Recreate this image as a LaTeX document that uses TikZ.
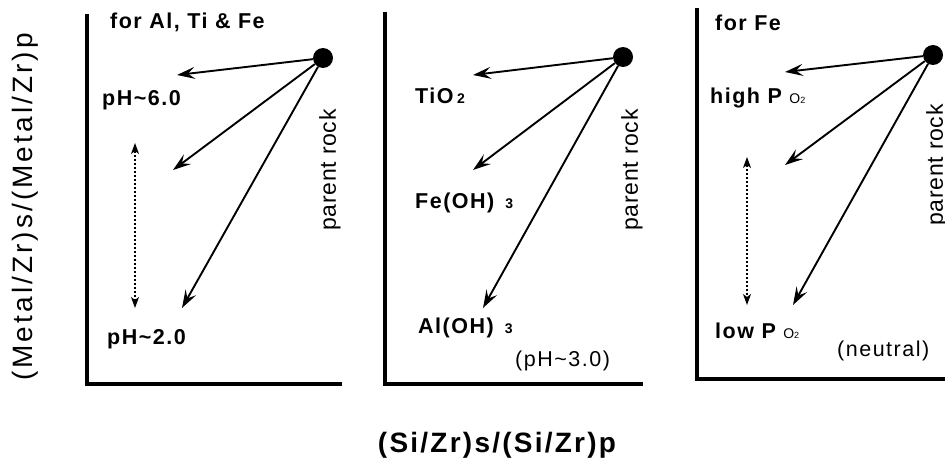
\documentclass[tikz,border=0pt]{standalone}
\usepackage{fontspec}
\setmainfont{Liberation Sans}
\usetikzlibrary{arrows.meta}
\newfontfamily\lblfont{Liberation Sans}[LetterSpace=7]
\newfontfamily\rockfont{Liberation Sans}[LetterSpace=3]
\newfontfamily\ylabfont{Liberation Sans}[LetterSpace=11]
\newfontfamily\xlabfont{Liberation Sans}[LetterSpace=8]
\tikzset{
  axisline/.style={line width=4.5pt},
  flowarrow/.style={line width=1.9pt, -{Stealth[length=18pt,width=12pt,inset=7pt]}},
  rangearrow/.style={line width=1.1pt, dash pattern=on 2.5pt off 1.5pt,
     {Stealth[length=11pt,width=8pt,inset=3pt]}-{Stealth[length=11pt,width=8pt,inset=3pt]}},
  rock/.style={circle, fill=black, inner sep=0pt, minimum size=20pt},
  lbl/.style={font=\lblfont\bfseries\fontsize{21.5}{24}\selectfont, inner sep=0pt, anchor=base west},
  note/.style={font=\lblfont\fontsize{21.5}{24}\selectfont, inner sep=0pt, anchor=base west},
  rocklbl/.style={font=\rockfont\fontsize{23}{25}\selectfont, inner sep=0pt, rotate=90},
  axislbl/.style={font=\ylabfont\fontsize{28}{30}\selectfont, inner sep=0pt},
}
\newcommand{\smallsub}[1]{\,{\fontsize{14}{15}\selectfont #1}}
\newcommand{\oxy}{{\mdseries\fontsize{14}{15}\selectfont O{\fontsize{9}{10}\selectfont 2}}}
\begin{document}
\begin{tikzpicture}[x=1pt,y=-1pt]
\useasboundingbox (0,0) rectangle (945,460);

% ---------- panel 1 ----------
\draw[axisline] (87,14) -- (87,384) -- (342,384);
\node[rock] (r1) at (323,58) {};
\coordinate (a1) at (177,75);
\coordinate (b1) at (173,170);
\coordinate (c1) at (182,308);
\draw[flowarrow] (r1) -- (a1);
\draw[flowarrow] (r1) -- (b1);
\draw[flowarrow] (r1) -- (c1);
\coordinate (d1t) at (135,143);
\coordinate (d1b) at (135,308);
\draw[rangearrow] (d1t) -- (d1b);
\node[lbl] (t1) at (110,29) {for Al, Ti \& Fe};
\node[lbl] (h1) at (102,105) {pH\char`~6.0};
\node[lbl] (l1) at (107,344) {pH\char`~2.0};
\node[rocklbl] (p1) at (330,170) {parent rock};

% ---------- panel 2 ----------
\draw[axisline] (385,12) -- (385,384) -- (643,384);
\node[rock] (r2) at (623,57) {};
\coordinate (a2) at (473,75);
\coordinate (b2) at (473,170);
\coordinate (c2) at (483,308);
\draw[flowarrow] (r2) -- (a2);
\draw[flowarrow] (r2) -- (b2);
\draw[flowarrow] (r2) -- (c2);
\node[lbl] (ti) at (415,103) {TiO\smallsub{2}};
\node[lbl] (fe) at (415,208) {Fe(OH) \smallsub{3}};
\node[lbl] (al) at (418,333) {Al(OH) \smallsub{3}};
\node[note] (ph3) at (515,366) {(pH\char`~3.0)};
\node[rocklbl] (p2) at (632,170) {parent rock};

% ---------- panel 3 ----------
\draw[axisline] (697,8) -- (697,379) -- (950,379);
\node[rock] (r3) at (933,55) {};
\coordinate (a3) at (785,72);
\coordinate (b3) at (785,165);
\coordinate (c3) at (793,305);
\draw[flowarrow] (r3) -- (a3);
\draw[flowarrow] (r3) -- (b3);
\draw[flowarrow] (r3) -- (c3);
\coordinate (d3t) at (747,157);
\coordinate (d3b) at (747,305);
\draw[rangearrow] (d3t) -- (d3b);
\node[lbl] (t3) at (715,31) {for Fe};
\node[lbl] (hp) at (710,103) {high P \oxy};
\node[lbl] (lp) at (715,338) {low P \oxy};
\node[note] (neu) at (837,356) {(neutral)};
\node[rocklbl] (p3) at (937,165) {parent rock};

% ---------- axis titles ----------
\node[axislbl, rotate=90] (ylab) at (25,207) {(Metal/Zr)s/(Metal/Zr)p};
\node[font=\xlabfont\bfseries\fontsize{28}{30}\selectfont, inner sep=0pt, anchor=base] (xlab) at (497,452) {(Si/Zr)s/(Si/Zr)p};
\end{tikzpicture}
\end{document}
